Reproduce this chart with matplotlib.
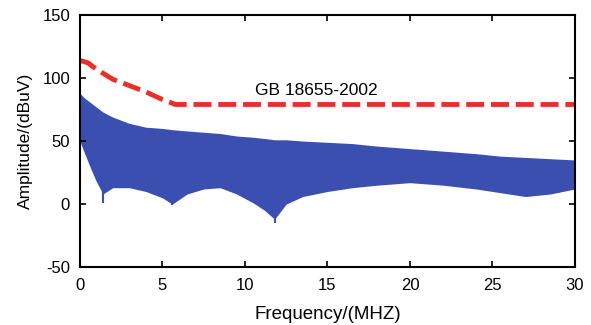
import numpy as np
import matplotlib.pyplot as plt

plt.rcParams['font.family'] = ['Liberation Sans', 'DejaVu Sans']
plt.rcParams['axes.unicode_minus'] = False

# GB 18655-2002 limit line (red dashed)
limit_freq = [0, 0.5, 1, 2, 3, 4, 5, 5.8, 30]
limit_amp = [114, 112, 107, 99, 94, 89, 83, 79, 79]

# spectrum envelope (blue band)
env_freq = [0, 0.3, 0.7, 1.0, 1.4, 2, 3, 4, 5, 5.6, 6.5, 7.5, 8.5, 9.5, 10.5,
            11.2, 11.8, 12.5, 13.5, 15, 16.5, 18, 20, 22, 24, 25.5, 27, 28.5, 30]
env_top = [88, 84, 80, 77, 73, 69, 64, 61, 60, 59, 58, 57, 56, 54, 53,
           52, 51, 51, 50, 49, 48, 46, 44, 42, 40, 38, 37, 36, 35]
env_bottom = [50, 40, 27, 18, 8, 13, 13, 10, 5, 0, 8, 12, 13, 8, 1,
              -5, -12, 0, 6, 10, 13, 15, 17, 15, 12, 9, 6, 8, 12]

# deepest single lines
spike_freq = [1.4, 5.6, 11.8]
spike_low = [1, -1, -15]
spike_high = [20, 15, 10]

xticks = [0, 5, 10, 15, 20, 25, 30]
yticks = [-50, 0, 50, 100, 150]

fig = plt.figure(figsize=(5.91, 3.25), dpi=100)
ax = fig.add_axes([0.135, 0.178, 0.838, 0.776])

blue = '#3b4fb0'
ax.fill_between(env_freq, env_bottom, env_top, color=blue, linewidth=0)
ax.vlines(spike_freq, spike_low, spike_high, color=blue, linewidth=1.5)

ax.plot(limit_freq, limit_amp, color='#e8302a', linewidth=3.5,
        dashes=(3.7, 1.4), solid_capstyle='butt', dash_capstyle='butt')

ax.text(10.6, 90, 'GB 18655-2002', fontsize=12.5, va='center', ha='left')

ax.set_xlim(0, 30)
ax.set_ylim(-50, 150)
ax.set_xticks(xticks)
ax.set_yticks(yticks)
ax.tick_params(direction='in', length=4, width=1.2, labelsize=12,
               top=True, right=True, pad=7)
ax.tick_params(axis='x', pad=8)
for s in ax.spines.values():
    s.set_linewidth(1.5)

ax.set_xlabel('Frequency/(MHZ)', fontsize=13.5, labelpad=9)
ax.set_ylabel('Amplitude/(dBuV)', fontsize=12.5, labelpad=7)

fig.savefig('out.png', dpi=100)
